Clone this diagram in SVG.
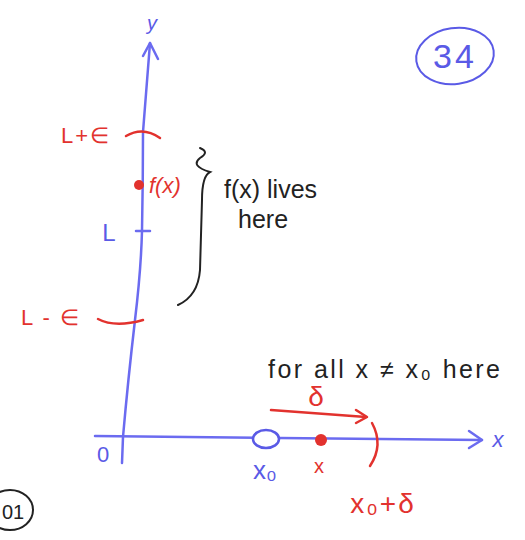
<svg xmlns="http://www.w3.org/2000/svg" width="525" height="540" viewBox="0 0 525 540">
<style>
.blue{fill:#5a5ae6;font-family:"Liberation Sans",sans-serif}
.red{fill:#e2322e;font-family:"Liberation Sans",sans-serif}
.blk{fill:#222;font-family:"Liberation Sans",sans-serif}
.ax{stroke:#6b6bf0;stroke-width:2.5;fill:none;stroke-linecap:round;stroke-linejoin:round}
.rs{stroke:#e2322e;stroke-width:2.5;fill:none;stroke-linecap:round;stroke-linejoin:round}
.ks{stroke:#222;stroke-width:2;fill:none;stroke-linecap:round}
</style>
<rect width="525" height="540" fill="#fff"/>
<g id="connectors">
  <path class="ax" d="M122 463 L123 437 Q128 380 135 320 Q141 270 142 231 Q143 180 143 132 L150 43"/>
  <path class="ax" d="M143 56 L150 43 L158 59"/>
  <path class="ax" d="M95 436 L482 440"/>
  <path class="ax" d="M469 431 L482 440 L469 448"/>
  <path class="ax" d="M136 231 L150 231"/>
  <path class="rs" d="M271 410 L366 417"/>
  <path class="rs" d="M356 410 L367 417 L356 423"/>
</g>
<g id="y-axis-label"><text class="blue" x="152" y="30" font-size="20" text-anchor="middle" font-style="italic">y</text></g>
<g id="x-axis-label"><text class="blue" x="498" y="447" font-size="22" text-anchor="middle" font-style="italic">x</text></g>
<g id="origin"><text class="blue" x="103" y="462" font-size="22" text-anchor="middle">0</text></g>
<g id="page-number">
  <ellipse cx="455" cy="56" rx="39" ry="28" fill="none" stroke="#5a5ae6" stroke-width="2" transform="rotate(-8 455 56)"/>
  <text class="blue" x="455" y="68" font-size="34" text-anchor="middle" letter-spacing="3">34</text>
</g>
<g id="page-corner">
  <ellipse cx="10" cy="510" rx="23" ry="20" fill="none" stroke="#222" stroke-width="2"/>
  <text class="blk" x="2" y="519" font-size="20">01</text>
</g>
<g id="L-plus-eps">
  <text class="red" x="86" y="143" font-size="22" text-anchor="middle" letter-spacing="2">L+∈</text>
  <path class="rs" d="M126 136 Q143 126 160 138"/>
</g>
<g id="fx-point">
  <circle cx="139" cy="185" r="5" fill="#e2322e"/>
  <text class="red" x="149" y="193" font-size="22" font-style="italic">f(x)</text>
</g>
<g id="L-label"><text class="blue" x="109" y="241" font-size="24" text-anchor="middle">L</text></g>
<g id="L-minus-eps">
  <text class="red" x="51" y="325" font-size="22" text-anchor="middle" letter-spacing="2">L - ∈</text>
  <path class="rs" d="M98 319 Q115 328 143 320"/>
</g>
<g id="brace">
  <path class="ks" d="M200 148 Q210 152 200 158 Q190 166 210 172 Q202 176 202 200 L200 270 Q198 296 178 305"/>
  <text class="blk" x="224" y="198" font-size="25">f(x) lives</text>
  <text class="blk" x="238" y="228" font-size="25">here</text>
</g>
<g id="for-all-note"><text class="blk" x="268" y="378" font-size="25" textLength="232" lengthAdjust="spacing">for all x ≠ x₀ here</text></g>
<g id="delta-label"><text class="red" x="316" y="406" font-size="28" text-anchor="middle">δ</text></g>
<g id="x0-point">
  <ellipse cx="266" cy="439" rx="13" ry="9" fill="#fff" stroke="#5a5ae6" stroke-width="2.5"/>
  <text class="blue" x="265" y="479" font-size="26" text-anchor="middle">x₀</text>
</g>
<g id="x-point">
  <circle cx="321" cy="440" r="6" fill="#e2322e"/>
  <text class="red" x="319" y="473" font-size="20" text-anchor="middle">x</text>
</g>
<g id="x0-plus-delta">
  <path class="rs" d="M372 423 Q384 445 370 466"/>
  <text class="red" x="383" y="513" font-size="28" text-anchor="middle" letter-spacing="2">x₀+δ</text>
</g>
</svg>
